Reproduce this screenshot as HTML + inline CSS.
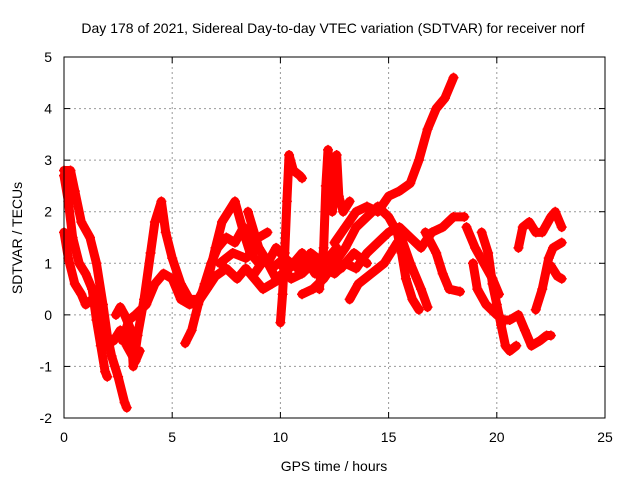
<!DOCTYPE html>
<html><head><meta charset="utf-8"><style>
body{margin:0;background:#fff;}
svg text{font-family:"Liberation Sans",sans-serif;fill:#000;}
</style></head><body>
<svg id="c" width="640" height="480" xmlns="http://www.w3.org/2000/svg">
<rect width="640" height="480" fill="#fff"/>
<text x="333" y="33" font-size="14" text-anchor="middle">Day 178 of 2021, Sidereal Day-to-day VTEC variation (SDTVAR) for receiver norf</text>
<text x="334" y="471" font-size="14" text-anchor="middle">GPS time / hours</text>
<text transform="translate(22,238) rotate(-90)" font-size="14" text-anchor="middle">SDTVAR / TECUs</text>
<g id="grid"></g><g id="ticks"></g><g id="marks"></g>
<rect x="64" y="57" width="541" height="361" fill="none" stroke="#000" stroke-width="1"/>
</svg>
<script>
const xTicks=[0,5,10,15,20,25];
const yTicks=[-2,-1,0,1,2,3,4,5];
const traceTimes=[
[0,0.3,0.5,0.8,1.2,1.5,1.8,2.0,2.2,2.5,2.8,2.9],
[0,0.2,0.4,0.7,1.0,1.3,1.5,1.7,1.9,2.0],
[0,0.2,0.5,0.8,1.0,1.3,1.6,1.9,2.3,2.6,2.9,3.3,3.5],
[2.4,2.6,2.8,3.1,3.2,3.4,3.7,4.0,4.2,4.5,4.7,5.0,5.4,5.8,6.2,6.6,7.0,7.3,7.6,7.9,8.3,8.6,9.0],
[2.7,3.0,3.3,3.8,4.2,4.6,5.0,5.4,5.8,6.2,6.6,7.0,7.5,8.0,8.4,8.8,9.2,9.6,10.0],
[5.6,5.9,6.2,6.5,6.8,7.1,7.5,7.9,8.3,8.7,9.0,9.4],
[10.0,10.1,10.2,10.3,10.4,10.6,10.9,11.0],
[11.8,12.0,12.1,12.2,12.3,12.4,12.5,12.6,12.7,12.9,13.2],
[12.5,13.0,13.5,14.0,14.5,15.0,15.5,16.0,16.4,16.8,17.2,17.6,18.0],
[10.0,10.5,11.0,11.5,12.0,12.5,13.0,13.5,14.0,14.5,15.0,15.5,16.0,16.5,17.0,17.5,18.0,18.5],
[11.0,11.5,12.0,12.5,13.0,13.5,14.0,14.5,15.0,15.4,15.6,15.8,16.1,16.4],
[15.5,16.0,16.5,16.8],
[16.7,17.2,17.5,17.8,18.3],
[13.2,13.6,14.2,14.8,15.4],
[18.6,19.0,19.4,19.8,20.1],
[19.3,19.6,19.8,20.0,20.2,20.4,20.6,20.9],
[18.9,19.1,19.5,20.0,20.3,20.6,21.0,21.3,21.6,22.0,22.3,22.5],
[21.0,21.2,21.5,21.8,22.1,22.5,22.7,23.0],
[21.8,22.1,22.4,22.6,23.0],
[22.5,22.8,23.0],
[8.5,9.0,9.4,9.8,10.2],
[7.2,7.8,8.4,9.0,9.6,10.2,10.8,11.4,12.0,12.6],
[8.8,9.3,9.8,10.4,11.0,11.6,12.2,12.8,13.4,14.0]
];
const traceValues=[
[2.8,2.8,2.4,1.8,1.5,1.0,0.2,-0.4,-0.8,-1.2,-1.7,-1.8],
[2.7,2.2,1.5,1.0,0.8,0.5,-0.1,-0.6,-1.1,-1.2],
[1.6,1.1,0.6,0.4,0.2,0.3,0.0,-0.6,-0.5,-0.3,-0.6,-0.9,-0.7],
[0.0,0.15,0.0,-0.3,-1.0,-0.4,0.3,1.2,1.8,2.2,1.6,1.1,0.6,0.3,0.3,0.6,1.3,1.8,2.0,2.2,1.6,1.2,1.0],
[-0.5,-0.1,0.0,0.2,0.6,0.8,0.7,0.3,0.2,0.25,0.5,0.75,0.9,0.7,0.9,0.7,0.5,0.6,0.7],
[-0.55,-0.3,0.2,0.6,1.0,1.3,1.5,1.4,1.7,1.4,1.5,1.6],
[-0.15,0.4,1.2,2.2,3.1,2.8,2.7,2.65],
[0.5,1.3,2.5,3.2,2.6,2.0,2.5,3.1,2.3,2.0,2.2],
[1.4,1.7,2.0,2.1,2.0,2.3,2.4,2.55,3.0,3.6,4.0,4.2,4.6],
[1.0,0.7,0.8,1.0,0.9,0.8,1.0,0.9,1.2,1.4,1.6,1.7,1.5,1.3,1.6,1.7,1.9,1.9],
[0.4,0.5,0.7,1.0,1.3,1.7,1.9,2.1,1.9,1.6,1.2,0.7,0.3,0.1],
[1.6,1.0,0.5,0.15],
[1.6,1.2,0.8,0.5,0.45],
[0.3,0.6,0.8,1.0,1.4],
[1.7,1.3,1.0,0.7,0.4],
[1.6,1.2,0.6,0.2,-0.2,-0.6,-0.7,-0.6],
[1.0,0.5,0.2,0.0,-0.1,-0.1,0.0,-0.3,-0.6,-0.5,-0.4,-0.4],
[1.3,1.7,1.8,1.6,1.6,1.9,2.0,1.7],
[0.1,0.5,1.1,1.3,1.4],
[0.95,0.75,0.7],
[2.0,1.3,1.0,1.3,1.1],
[1.0,1.2,1.1,1.3,0.9,1.1,0.9,1.2,1.0,1.3],
[0.8,1.1,0.7,0.9,1.2,0.8,1.1,0.9,1.2,1.0]
];
const NS="http://www.w3.org/2000/svg";
const X=t=>64+t*541/25, Y=v=>57+(5-v)*361/7;
function mk(tag,attrs,parent){const e=document.createElementNS(NS,tag);for(const k in attrs)e.setAttribute(k,attrs[k]);parent.appendChild(e);return e;}
const grid=document.getElementById('grid'),ticks=document.getElementById('ticks'),marks=document.getElementById('marks');
xTicks.forEach(t=>{
  if(t>0&&t<25){const g=mk('line',{x1:X(t),x2:X(t),y1:57,y2:418,stroke:'#999','stroke-dasharray':'2,3'},grid);
  
  }
  mk('line',{x1:X(t),x2:X(t),y1:418,y2:412,stroke:'#000'},ticks);
  mk('line',{x1:X(t),x2:X(t),y1:57,y2:63,stroke:'#000'},ticks);
  const l=mk('text',{x:X(t),y:442,'font-size':14,'text-anchor':'middle'},ticks);l.textContent=t;
  
  
});
yTicks.forEach(v=>{
  if(v>-2&&v<5){const g=mk('line',{x1:64,x2:605,y1:Y(v),y2:Y(v),stroke:'#999','stroke-dasharray':'2,3'},grid);
  
  }
  mk('line',{x1:64,x2:70,y1:Y(v),y2:Y(v),stroke:'#000'},ticks);
  mk('line',{x1:605,x2:599,y1:Y(v),y2:Y(v),stroke:'#000'},ticks);
  const l=mk('text',{x:52,y:Y(v)+5,'font-size':14,'text-anchor':'end'},ticks);l.textContent=v;
  
  
});
traceTimes.forEach((ts,i)=>{
  const vs=traceValues[i];
  const pts=ts.map((t,j)=>X(t)+','+Y(vs[j])).join(' ');
  const pl=mk('polyline',{points:pts,fill:'none',stroke:'#f00','stroke-width':9,'stroke-linejoin':'round','stroke-linecap':'round'},marks);
  
  
  ts.forEach((t,j)=>{
    const x=X(t),y=Y(vs[j]);
    const p=mk('path',{d:`M${x-5},${y}h10M${x},${y-5}v10`,stroke:'#f00','stroke-width':1.5},marks);
    
    
  });
});
</script>
</body></html>
